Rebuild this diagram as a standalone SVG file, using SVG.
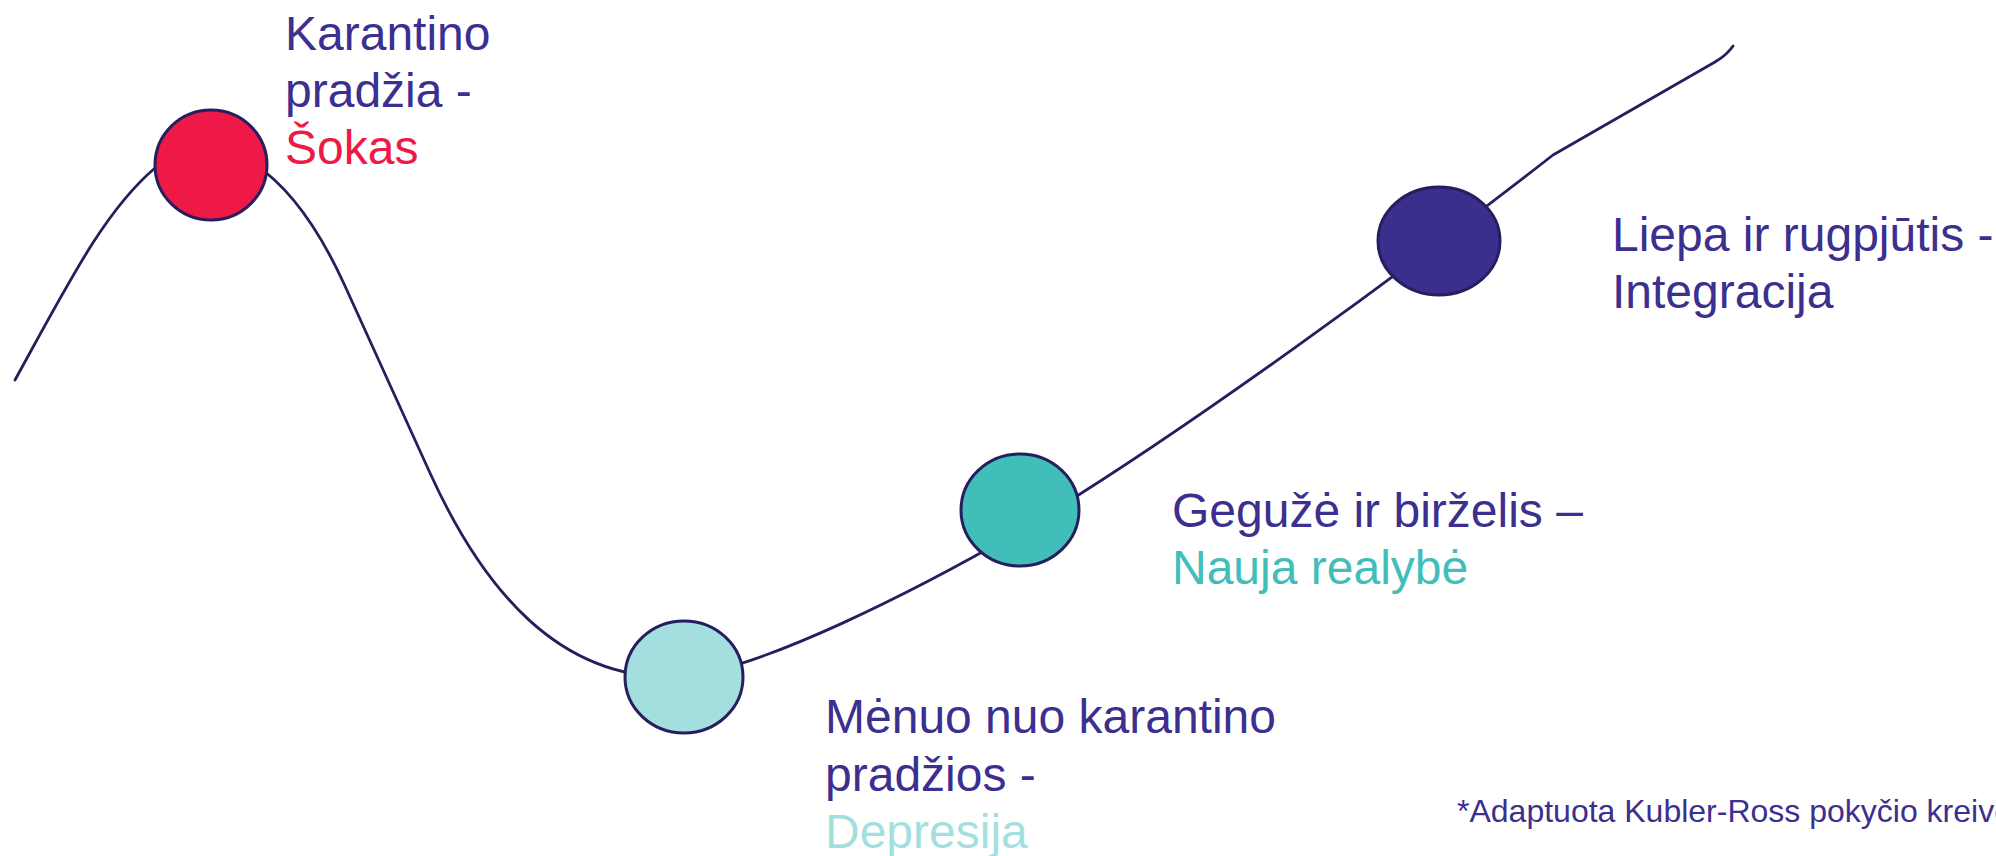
<svg xmlns="http://www.w3.org/2000/svg" width="1996" height="856" viewBox="0 0 1996 856">
  <style>
    .t { font-family: "Liberation Sans", Arial, sans-serif; font-size: 48px; fill: #3B2F8F; }
    .fn { font-family: "Liberation Sans", Arial, sans-serif; font-size: 32px; fill: #3B2F8F; }
    .curve { fill: none; stroke: #261E5E; stroke-width: 2.8; stroke-linecap: round; stroke-linejoin: round; }
    .node { stroke: #261E5E; stroke-width: 3; }
  </style>
  <rect width="1996" height="856" fill="#FFFFFF"/>
  <g id="connectors">
    <path class="curve" d="M15,380 C70,280 105,210.5 155,168 C215,117 290,165 345,286 L430,473 C485,594 560,677 670,677 C750,678 930,583 1030,525 C1180,435 1403,272 1553,155 L1715,62 Q1727,55 1733,46"/>
  </g>
  <g id="node-sokas">
    <ellipse class="node" cx="211" cy="165" rx="56" ry="55" fill="#EE1947"/>
    <text class="t" x="285" y="50">Karantino</text>
    <text class="t" x="285" y="107">pradžia -</text>
    <text class="t" x="285" y="164" style="fill:#EE1947">Šokas</text>
  </g>
  <g id="node-depresija">
    <ellipse class="node" cx="684" cy="677" rx="59" ry="56" fill="#A3DFDF"/>
    <text class="t" x="825" y="733">Mėnuo nuo karantino</text>
    <text class="t" x="825" y="791">pradžios -</text>
    <text class="t" x="825" y="848" style="fill:#A3DFDF">Depresija</text>
  </g>
  <g id="node-realybe">
    <ellipse class="node" cx="1020" cy="510" rx="59" ry="56" fill="#41BDBA"/>
    <text class="t" x="1172" y="527">Gegužė ir birželis –</text>
    <text class="t" x="1172" y="584" style="fill:#41BDBA">Nauja realybė</text>
  </g>
  <g id="node-integracija">
    <ellipse class="node" cx="1439" cy="241" rx="61" ry="54" fill="#3B2F8E"/>
    <text class="t" x="1612" y="251">Liepa ir rugpjūtis -</text>
    <text class="t" x="1612" y="308">Integracija</text>
  </g>
  <g id="footnote">
    <text class="fn" x="1457" y="822">*Adaptuota Kubler-Ross pokyčio kreivė</text>
  </g>
</svg>
